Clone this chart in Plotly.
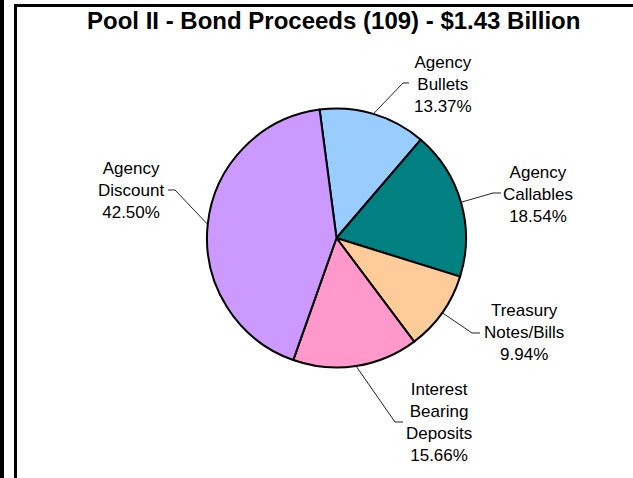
import math
import plotly.graph_objects as go

# ---- data ----
categories = ["Agency Bullets", "Agency Callables", "Treasury Notes/Bills",
              "Interest Bearing Deposits", "Agency Discount"]
label_lines = ["Agency<br>Bullets", "Agency<br>Callables", "Treasury<br>Notes/Bills",
               "Interest<br>Bearing<br>Deposits", "Agency<br>Discount"]
values = [13.37, 18.54, 9.94, 15.66, 42.50]
colors = ["#99CCFF", "#008080", "#FFCC99", "#FF99CC", "#CC99FF"]
title_text = "Pool II - Bond Proceeds (109) - $1.43 Billion"

# ---- layout (pixels) ----
W, H = 633, 478
CX, CY, R = 336.5, 238.0, 129.5
ROT = -7.5
# label block centres, leader elbow and leader end (pixels)
label_pos = [(443, 84), (538, 194), (524, 332), (439, 422), (131, 190)]
elbow = [(403, 83), (493, 193), (472, 333), (395, 422), (175, 190)]
lead_end = [(409, 83), (501, 193), (480, 333), (403, 422), (168, 190)]


def px(x):
    return x / W


def py(y):
    return 1 - y / H


fig = go.Figure(go.Pie(
    labels=categories, values=values, sort=False, direction="clockwise",
    rotation=ROT, textinfo="none", hoverinfo="label+percent",
    marker=dict(colors=colors, line=dict(color="black", width=2)),
    domain=dict(x=[px(CX - R), px(CX + R)], y=[py(CY + R), py(CY - R)]),
    showlegend=False,
))

shapes = []
annotations = []
total = sum(values)
cum = 0.0
for i, v in enumerate(values):
    mid = ROT + (cum + v / 2) / total * 360
    cum += v
    a = math.radians(mid)
    ex, ey = CX + R * math.sin(a), CY - R * math.cos(a)
    bx, by = elbow[i]
    tx, ty = lead_end[i]
    shapes.append(dict(type="path", xref="paper", yref="paper",
                       path=f"M {px(ex)} {py(ey)} L {px(bx)} {py(by)} L {px(tx)} {py(ty)}",
                       line=dict(color="#222222", width=1)))
    lx, ly = label_pos[i]
    annotations.append(dict(
        x=px(lx), y=py(ly), xref="paper", yref="paper", showarrow=False,
        text=f"{label_lines[i]}<br>{v:.2f}%", align="center",
        xanchor="center", yanchor="middle",
        font=dict(family="Liberation Sans, Arial", size=17, color="black")))

annotations.append(dict(
    x=px(333), y=py(20), xref="paper", yref="paper", showarrow=False,
    text=f"<b>{title_text}</b>", xanchor="center", yanchor="middle",
    font=dict(family="Liberation Sans, Arial", size=24, color="black")))

# frame decorations
shapes.append(dict(type="rect", xref="paper", yref="paper",
                   x0=0, x1=px(4), y0=0, y1=1,
                   fillcolor="black", line=dict(width=0)))
shapes.append(dict(type="rect", xref="paper", yref="paper",
                   x0=px(14), x1=1, y0=py(7), y1=py(4),
                   fillcolor="black", line=dict(width=0)))
shapes.append(dict(type="rect", xref="paper", yref="paper",
                   x0=px(14), x1=px(17), y0=0, y1=py(4),
                   fillcolor="black", line=dict(width=0)))

fig.update_layout(
    width=W, height=H, margin=dict(l=0, r=0, t=0, b=0),
    paper_bgcolor="white", plot_bgcolor="white",
    shapes=shapes, annotations=annotations,
)

fig.write_html("out.html", config={"displayModeBar": False},
               post_script="document.body.style.margin='0';document.body.style.overflow='hidden';")
